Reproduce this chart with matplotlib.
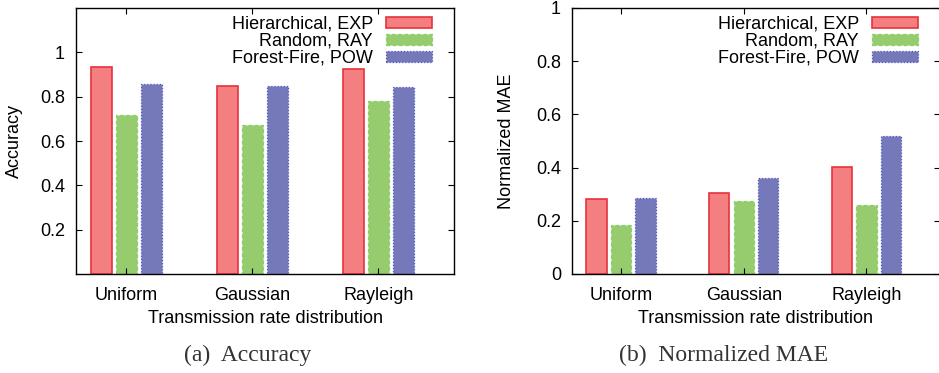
import numpy as np
import matplotlib
matplotlib.use("Agg")
import matplotlib.pyplot as plt

plt.rcParams["font.family"] = ["Liberation Sans", "DejaVu Sans"]

# distributions along the x axis
categories = ["Uniform", "Gaussian", "Rayleigh"]
series_names = ["Hierarchical, EXP", "Random, RAY", "Forest-Fire, POW"]

# accuracy per distribution, one list per network/model pair
acc_hier = [0.936, 0.848, 0.925]
acc_rand = [0.719, 0.673, 0.779]
acc_ff = [0.857, 0.848, 0.843]

# normalized MAE per distribution
mae_hier = [0.283, 0.305, 0.401]
mae_rand = [0.186, 0.276, 0.258]
mae_ff = [0.286, 0.361, 0.517]

acc_ticks = [0.2, 0.4, 0.6, 0.8, 1.0]
acc_ticklabels = ["0.2", "0.4", "0.6", "0.8", "1"]
mae_ticks = [0, 0.2, 0.4, 0.6, 0.8, 1.0]
mae_ticklabels = ["0", "0.2", "0.4", "0.6", "0.8", "1"]

styles = [
    dict(facecolor="#f47f80", edgecolor="#e8323c", linestyle="-", linewidth=1.2),
    dict(facecolor="#96cb6e", edgecolor="#86d26a", linestyle=(0, (3, 2)), linewidth=0.9),
    dict(facecolor="#7579b9", edgecolor="#5058c8", linestyle=(0, (1, 1.5)), linewidth=0.9),
]

FS = 13

fig = plt.figure(figsize=(9.39, 3.73), dpi=100)
ax1 = fig.add_axes([76 / 939, 99 / 373, 378 / 939, 266 / 373])
ax2 = fig.add_axes([572 / 939, 99 / 373, 368 / 939, 266 / 373])


def draw(ax, data, ylim, ticks, ticklabels, ylabel, ylabel_x, leg_anchor):
    x = np.arange(len(categories))
    for i, (vals, name, st) in enumerate(zip(data, series_names, styles)):
        ax.bar(x + (i - 1) * 0.2, vals, width=0.165, label=name, **st)
    ax.set_xlim(-0.4, 2.6)
    ax.set_ylim(*ylim)
    ax.set_xticks(x)
    ax.set_xticklabels(categories, fontsize=FS)
    ax.set_yticks(ticks)
    ax.set_yticklabels(ticklabels, fontsize=FS)
    ax.tick_params(direction="in", top=True, right=True, length=4,
                   width=0.8, pad=8)
    ax.tick_params(axis="x", pad=9)
    ax.set_xlabel("Transmission rate distribution", fontsize=FS, labelpad=5)
    ax.set_ylabel(ylabel, fontsize=FS)
    ax.yaxis.set_label_coords(ylabel_x, 0.5)
    for sp in ax.spines.values():
        sp.set_linewidth(1.0)
    leg = ax.legend(loc="upper right", bbox_to_anchor=leg_anchor, frameon=False,
                    fontsize=FS, markerfirst=False, handlelength=2.55,
                    handleheight=0.5, labelspacing=0.0, handletextpad=0.72,
                    borderaxespad=0.0, borderpad=0.0)
    for t in leg.get_texts():
        t.set_ha("right")


draw(ax1, [acc_hier, acc_rand, acc_ff], (0, 1.2), acc_ticks, acc_ticklabels,
     "Accuracy", -0.14, (0.942, 0.970))
draw(ax2, [mae_hier, mae_rand, mae_ff], (0, 1.0), mae_ticks, mae_ticklabels,
     "Normalized MAE", -0.155, (0.940, 0.970))

# subfigure captions
serif = ["Liberation Serif", "DejaVu Serif"]
fig.text(248 / 939, 1 - 355 / 373, "(a)  Accuracy", ha="center", va="center",
         family=serif, fontsize=17, color="#333333")
fig.text(724 / 939, 1 - 355 / 373, "(b)  Normalized MAE", ha="center", va="center",
         family=serif, fontsize=17, color="#333333")

fig.savefig("out.png", dpi=100)
